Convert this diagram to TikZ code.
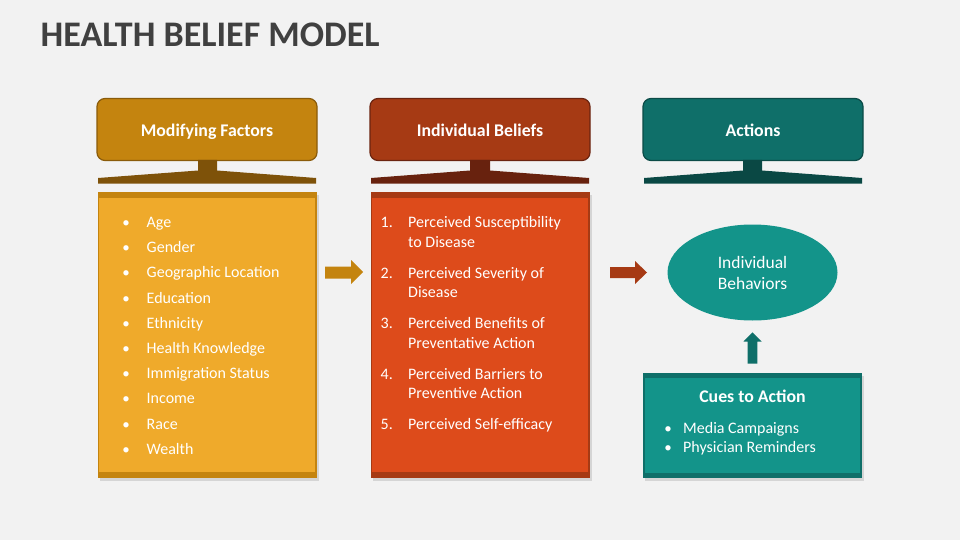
\documentclass[tikz,border=0pt]{standalone}
\usepackage{fontspec}
\setmainfont{Carlito}
\usetikzlibrary{shapes.geometric,shadows}
\definecolor{bg}{HTML}{F2F2F2}
\definecolor{titlec}{HTML}{404040}
\definecolor{oD}{HTML}{C4840F}
\definecolor{oB}{HTML}{8A5B0A}
\definecolor{oS}{HTML}{7E5209}
\definecolor{oL}{HTML}{EFAA2B}
\definecolor{rD}{HTML}{A63A14}
\definecolor{rB}{HTML}{6B2410}
\definecolor{rS}{HTML}{68220E}
\definecolor{rL}{HTML}{DD4B1B}
\definecolor{tD}{HTML}{0F6F69}
\definecolor{tB}{HTML}{0B4B47}
\definecolor{tS}{HTML}{0A4844}
\definecolor{tL}{HTML}{13948A}
\tikzset{
  hdr/.style={rounded corners=8pt, minimum width=220pt, minimum height=62pt, line width=1.2pt,
    text=white, font=\bfseries\fontsize{17.8}{21}\selectfont, inner sep=0pt,
    text height=13.5pt, text depth=0pt},
  cbox/.style={minimum width=219pt, inner sep=0pt,
    drop shadow={opacity=.25, shadow xshift=2pt, shadow yshift=-3pt}},
  itemtxt/.style={anchor=base west, text=white, font=\fontsize{16}{19}\selectfont, inner sep=0pt},
  bul/.style={anchor=base, text=white, font=\fontsize{15}{18}\selectfont, inner sep=0pt}
}
\begin{document}
\begin{tikzpicture}[x=1pt,y=-1pt]
\fill[bg] (0,0) rectangle (960,540);
\useasboundingbox (0,0) rectangle (960,540);
\node[anchor=base west, inner sep=0pt, text=titlec, font=\bfseries\fontsize{36}{42}\selectfont] (title) at (40.5,46.7) {HEALTH BELIEF MODEL};

% headers
\node[hdr, fill=oD, draw=oB] (h1) at (207,129.5) {Modifying Factors};
\node[hdr, fill=rD, draw=rB] (h2) at (480,129.5) {Individual Beliefs};
\node[hdr, fill=tD, draw=tB] (h3) at (753,129.5) {Actions};

% stands
\fill[oS] (198,160)--(217,160)--(217,170.5)--(316,178)--(316,183.5)--(98,183.5)--(98,178)--(198,170.5)--cycle;
\fill[rS] (470,160)--(490,160)--(490,170.5)--(589,178)--(589,183.5)--(371,183.5)--(371,178)--(470,170.5)--cycle;
\fill[tS] (743,160)--(762,160)--(762,170.5)--(862,178)--(862,183.5)--(644,183.5)--(644,178)--(743,170.5)--cycle;

% content boxes
\node[cbox, fill=oD, minimum height=286pt] (c1) at (207,335) {};
\fill[oL] ([xshift=2pt,yshift=-6.5pt]c1.north west) rectangle ([xshift=-2pt,yshift=6pt]c1.south east);
\node[cbox, fill=rD, minimum height=286pt] (c2) at (480,335) {};
\fill[rL] ([xshift=2pt,yshift=-6.5pt]c2.north west) rectangle ([xshift=-2pt,yshift=6pt]c2.south east);
\node[cbox, fill=tD, minimum height=105pt] (c3) at (752.5,425.5) {};
\fill[tL] ([xshift=2pt,yshift=-5.5pt]c3.north west) rectangle ([xshift=-2pt,yshift=5.5pt]c3.south east);

% list 1
\foreach \t [count=\i] in {Age,Gender,Geographic Location,Education,Ethnicity,Health Knowledge,Immigration Status,Income,Race,Wealth}{
  \node[bul] (mb\i) at (126,{227.5+25.2*(\i-1)}) {\textbullet};
  \node[itemtxt] (m\i) at (146.5,{227.5+25.2*(\i-1)}) {\t};
}

% list 2
\node[itemtxt] (n1) at (380.5,227.5) {1.};
\node[itemtxt] (p1a) at (408,227.5) {Perceived Susceptibility};
\node[itemtxt] (p1b) at (408,247) {to Disease};
\node[itemtxt] (n2) at (380.5,278) {2.};
\node[itemtxt] (p2a) at (408,278) {Perceived Severity of};
\node[itemtxt] (p2b) at (408,297.5) {Disease};
\node[itemtxt] (n3) at (380.5,328.5) {3.};
\node[itemtxt] (p3a) at (408,328.5) {Perceived Benefits of};
\node[itemtxt] (p3b) at (408,348) {Preventative Action};
\node[itemtxt] (n4) at (380.5,379) {4.};
\node[itemtxt] (p4a) at (408,379) {Perceived Barriers to};
\node[itemtxt] (p4b) at (408,398.5) {Preventive Action};
\node[itemtxt] (n5) at (380.5,429.5) {5.};
\node[itemtxt] (p5a) at (408,429.5) {Perceived Self-efficacy};

% ellipse
\node[ellipse, fill=tL, minimum width=170pt, minimum height=96pt, inner sep=0pt, text=white,
  align=center, font=\fontsize{17.5}{21}\selectfont] (eb) at (752.5,272.5) {Individual\\Behaviors};

% cues
\node[text=white, font=\bfseries\fontsize{17.8}{21}\selectfont, inner sep=0pt] (cue) at (752.5,396) {Cues to Action};
\node[bul] (cb1) at (668,433) {\textbullet};
\node[itemtxt] (ct1) at (683,433) {Media Campaigns};
\node[bul] (cb2) at (668,452) {\textbullet};
\node[itemtxt] (ct2) at (683,452) {Physician Reminders};

% block arrows
\fill[oD] (325,266.5)--(351,266.5)--(351,260)--(363,272)--(351,284)--(351,278.5)--(325,278.5)--cycle;
\fill[rD] (610,267)--(635,267)--(635,261)--(647,272.5)--(635,284)--(635,278)--(610,278)--cycle;
\fill[tD] (752.5,332.3)--(761.7,341.7)--(757.3,341.7)--(757.3,363.5)--(747.7,363.5)--(747.7,341.7)--(743.3,341.7)--cycle;
\end{tikzpicture}
\end{document}
